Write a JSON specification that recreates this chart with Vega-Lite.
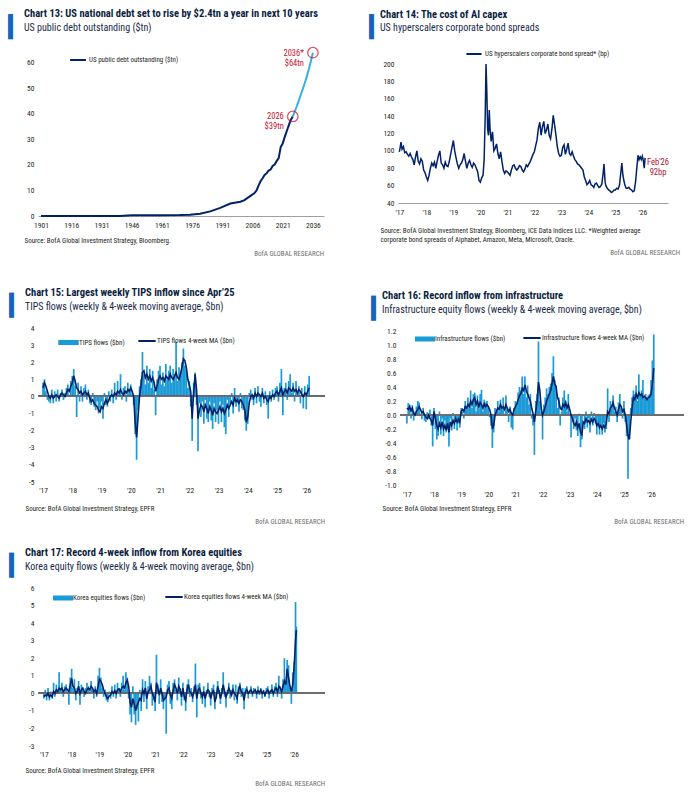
{
"$schema":"https://vega.github.io/schema/vega-lite/v6.json",
"padding":{"left":12,"top":9,"right":2,"bottom":0},
"config":{
 "view":{"stroke":null},
 "font":"Roboto Condensed, Noto Sans Condensed, Roboto, sans-serif",
 "axis":{"grid":false,"ticks":false,"domain":false,"labelOverlap":false,"labelFontSize":7.5,"labelColor":"#231f20","labelPadding":4,"titleFontWeight":"normal","titleFontSize":7,"titleColor":"#231f20","titleAnchor":"start","titleAlign":"left","titleBaseline":"top","titleLineHeight":9},
 "title":{"anchor":"start","fontSize":10.5,"fontWeight":"bold","color":"#0b1e3f","subtitleFontSize":10,"subtitleColor":"#1a2a4a","subtitlePadding":3,"offset":12},
 "legend":{"padding":0,"labelFontSize":7,"labelColor":"#231f20","title":null,"symbolStrokeWidth":2,"labelOffset":0}
},
"resolve":{"scale":{"fill":"independent","stroke":"independent"}},
"spacing":31,
"vconcat":[
{"spacing":49,"resolve":{"scale":{"fill":"independent","stroke":"independent"}},"hconcat":[
 {"title":{"text":"▔","font":"DejaVu Sans","orient":"left","anchor":"end","color":"#1565c0","fontSize":32,"fontWeight":"normal","offset":-21,"dx":-5},
  "resolve":{"scale":{"fill":"independent","stroke":"independent"}},
  "hconcat":[{"title":{"text":"Chart 13: US national debt set to rise by $2.4tn a year in next 10 years","subtitle":"US public debt outstanding ($tn)"},
   "resolve":{"scale":{"fill":"independent","stroke":"independent"}},
   "vconcat":[{"width":286,"height":171,
    "title":{"text":"BofA GLOBAL RESEARCH","orient":"bottom","anchor":"end","fontSize":7,"fontWeight":"normal","color":"#6d6e71","offset":7,"frame":"group"},
    "data":{"values":[{"yr":1901,"v":0.001,"s":"h"},{"yr":1910,"v":0.001,"s":"h"},{"yr":1916,"v":0.001,"s":"h"},{"yr":1917,"v":0.003,"s":"h"},{"yr":1919,"v":0.025,"s":"h"},{"yr":1930,"v":0.016,"s":"h"},{"yr":1940,"v":0.043,"s":"h"},{"yr":1946,"v":0.27,"s":"h"},{"yr":1950,"v":0.257,"s":"h"},{"yr":1960,"v":0.29,"s":"h"},{"yr":1970,"v":0.37,"s":"h"},{"yr":1975,"v":0.53,"s":"h"},{"yr":1980,"v":0.9,"s":"h"},{"yr":1985,"v":1.8,"s":"h"},{"yr":1990,"v":3.2,"s":"h"},{"yr":1995,"v":4.9,"s":"h"},{"yr":2000,"v":5.6,"s":"h"},{"yr":2002,"v":6.2,"s":"h"},{"yr":2005,"v":7.9,"s":"h"},{"yr":2007,"v":9.0,"s":"h"},{"yr":2008,"v":10.0,"s":"h"},{"yr":2009,"v":11.9,"s":"h"},{"yr":2010,"v":13.6,"s":"h"},{"yr":2011,"v":14.8,"s":"h"},{"yr":2012,"v":16.1,"s":"h"},{"yr":2013,"v":16.7,"s":"h"},{"yr":2014,"v":17.8,"s":"h"},{"yr":2015,"v":18.2,"s":"h"},{"yr":2016,"v":19.6,"s":"h"},{"yr":2017,"v":20.2,"s":"h"},{"yr":2018,"v":21.5,"s":"h"},{"yr":2019,"v":22.7,"s":"h"},{"yr":2020,"v":27.0,"s":"h"},{"yr":2021,"v":28.4,"s":"h"},{"yr":2022,"v":31.0,"s":"h"},{"yr":2023,"v":33.2,"s":"h"},{"yr":2024,"v":35.5,"s":"h"},{"yr":2025,"v":37.6,"s":"h"},{"yr":2026,"v":39.0,"s":"h"},
     {"yr":2026,"v":39.0,"s":"p"},{"yr":2027,"v":41.0,"s":"p"},{"yr":2028,"v":43.0,"s":"p"},{"yr":2029,"v":45.3,"s":"p"},{"yr":2030,"v":47.5,"s":"p"},{"yr":2031,"v":49.8,"s":"p"},{"yr":2032,"v":52.2,"s":"p"},{"yr":2033,"v":54.8,"s":"p"},{"yr":2034,"v":57.6,"s":"p"},{"yr":2035,"v":60.7,"s":"p"},{"yr":2036,"v":64.0,"s":"p"}]},
    "encoding":{
     "x":{"field":"yr","type":"quantitative","scale":{"domain":[1899.5,2041.5],"nice":false,"zero":false},"axis":{"values":[1901,1916,1931,1946,1961,1976,1991,2006,2021,2036],"format":"d","domain":true,"domainColor":"#a0a0a0","labelPadding":5,"title":"Source: BofA Global Investment Strategy, Bloomberg.","titleX":-14,"titleY":20}},
     "y":{"field":"v","type":"quantitative","scale":{"domain":[0,67],"nice":false},"axis":{"values":[0,10,20,30,40,50,60],"title":null}}
    },
    "layer":[
     {"transform":[{"filter":"datum.s=='h'"}],"mark":{"type":"line","strokeWidth":2},
      "encoding":{"stroke":{"datum":"US public debt outstanding ($tn)","scale":{"range":["#012169"]},"legend":{"orient":"none","legendX":31,"legendY":6,"symbolType":"stroke","symbolSize":250,"labelOffset":2}}}},
     {"transform":[{"filter":"datum.s=='p'"}],"mark":{"type":"line","strokeWidth":2,"color":"#34b0e6"}},
     {"data":{"values":[{"yr":2026,"v":39,"lab":"2026\n$39tn"},{"yr":2036,"v":64,"lab":"2036*\n$64tn"}]},
      "layer":[
       {"mark":{"type":"point","shape":"circle","filled":false,"size":110,"strokeWidth":1.3,"color":"#c8102e"}},
       {"mark":{"type":"text","align":"right","baseline":"middle","dx":-9,"fontSize":8.5,"color":"#c8102e","lineBreak":"\n","lineHeight":10},"encoding":{"text":{"field":"lab"}}}
      ]}
    ]
   }]
  }]
 },
 {"title":{"text":"▔","font":"DejaVu Sans","orient":"left","anchor":"end","color":"#1565c0","fontSize":32,"fontWeight":"normal","offset":-26,"dx":-5},
  "resolve":{"scale":{"fill":"independent","stroke":"independent"}},
  "hconcat":[{"title":{"text":"Chart 14: The cost of AI capex","subtitle":"US hyperscalers corporate bond spreads"},
   "resolve":{"scale":{"fill":"independent","stroke":"independent"}},
   "vconcat":[{"width":270,"height":158,
    "title":{"text":"BofA GLOBAL RESEARCH","orient":"bottom","anchor":"end","fontSize":7,"fontWeight":"normal","color":"#6d6e71","offset":7,"frame":"group","dx":12},
    "data":{"values":[{"t":2017.00,"v":99},{"t":2017.03,"v":104},{"t":2017.06,"v":110},{"t":2017.10,"v":102},{"t":2017.15,"v":105},{"t":2017.20,"v":98},{"t":2017.25,"v":99},{"t":2017.30,"v":96},{"t":2017.35,"v":94},{"t":2017.40,"v":97},{"t":2017.45,"v":93},{"t":2017.50,"v":90},{"t":2017.55,"v":84},{"t":2017.60,"v":93},{"t":2017.65,"v":100},{"t":2017.70,"v":88},{"t":2017.75,"v":85},{"t":2017.80,"v":91},{"t":2017.85,"v":88},{"t":2017.90,"v":78},{"t":2017.95,"v":75},{"t":2018.00,"v":70},{"t":2018.05,"v":66},{"t":2018.10,"v":72},{"t":2018.15,"v":80},{"t":2018.20,"v":86},{"t":2018.25,"v":83},{"t":2018.30,"v":87},{"t":2018.35,"v":80},{"t":2018.40,"v":88},{"t":2018.45,"v":95},{"t":2018.50,"v":100},{"t":2018.55,"v":86},{"t":2018.60,"v":84},{"t":2018.65,"v":80},{"t":2018.70,"v":87},{"t":2018.75,"v":83},{"t":2018.80,"v":82},{"t":2018.85,"v":88},{"t":2018.90,"v":96},{"t":2018.95,"v":104},{"t":2019.00,"v":112},{"t":2019.05,"v":100},{"t":2019.10,"v":92},{"t":2019.15,"v":85},{"t":2019.20,"v":80},{"t":2019.25,"v":84},{"t":2019.30,"v":86},{"t":2019.35,"v":90},{"t":2019.40,"v":97},{"t":2019.45,"v":88},{"t":2019.50,"v":80},{"t":2019.55,"v":86},{"t":2019.60,"v":89},{"t":2019.65,"v":84},{"t":2019.70,"v":81},{"t":2019.75,"v":86},{"t":2019.80,"v":84},{"t":2019.85,"v":80},{"t":2019.90,"v":76},{"t":2019.95,"v":66},{"t":2020.00,"v":64},{"t":2020.05,"v":69},{"t":2020.10,"v":72},{"t":2020.14,"v":90},{"t":2020.18,"v":140},{"t":2020.21,"v":200},{"t":2020.24,"v":168},{"t":2020.27,"v":125},{"t":2020.30,"v":118},{"t":2020.33,"v":147},{"t":2020.36,"v":125},{"t":2020.40,"v":111},{"t":2020.45,"v":122},{"t":2020.50,"v":100},{"t":2020.55,"v":103},{"t":2020.60,"v":108},{"t":2020.65,"v":97},{"t":2020.70,"v":91},{"t":2020.75,"v":99},{"t":2020.80,"v":88},{"t":2020.85,"v":78},{"t":2020.90,"v":74},{"t":2020.95,"v":77},{"t":2021.00,"v":76},{"t":2021.05,"v":74},{"t":2021.10,"v":72},{"t":2021.15,"v":78},{"t":2021.20,"v":83},{"t":2021.25,"v":84},{"t":2021.30,"v":80},{"t":2021.35,"v":78},{"t":2021.40,"v":80},{"t":2021.45,"v":83},{"t":2021.50,"v":82},{"t":2021.55,"v":78},{"t":2021.60,"v":76},{"t":2021.65,"v":79},{"t":2021.70,"v":84},{"t":2021.75,"v":82},{"t":2021.80,"v":85},{"t":2021.85,"v":88},{"t":2021.90,"v":92},{"t":2021.95,"v":96},{"t":2022.00,"v":99},{"t":2022.05,"v":106},{"t":2022.10,"v":113},{"t":2022.15,"v":126},{"t":2022.20,"v":133},{"t":2022.25,"v":118},{"t":2022.30,"v":128},{"t":2022.35,"v":134},{"t":2022.40,"v":120},{"t":2022.45,"v":124},{"t":2022.50,"v":131},{"t":2022.55,"v":118},{"t":2022.60,"v":114},{"t":2022.65,"v":125},{"t":2022.70,"v":141},{"t":2022.75,"v":130},{"t":2022.80,"v":118},{"t":2022.85,"v":105},{"t":2022.90,"v":97},{"t":2022.95,"v":94},{"t":2023.00,"v":95},{"t":2023.05,"v":104},{"t":2023.10,"v":107},{"t":2023.15,"v":96},{"t":2023.20,"v":102},{"t":2023.25,"v":109},{"t":2023.30,"v":97},{"t":2023.35,"v":95},{"t":2023.40,"v":99},{"t":2023.45,"v":94},{"t":2023.50,"v":90},{"t":2023.55,"v":88},{"t":2023.60,"v":85},{"t":2023.65,"v":84},{"t":2023.70,"v":82},{"t":2023.75,"v":80},{"t":2023.80,"v":78},{"t":2023.85,"v":70},{"t":2023.90,"v":66},{"t":2023.95,"v":61},{"t":2024.00,"v":63},{"t":2024.05,"v":66},{"t":2024.10,"v":61},{"t":2024.15,"v":60},{"t":2024.20,"v":58},{"t":2024.25,"v":62},{"t":2024.30,"v":63},{"t":2024.35,"v":60},{"t":2024.40,"v":58},{"t":2024.45,"v":59},{"t":2024.50,"v":62},{"t":2024.55,"v":75},{"t":2024.58,"v":85},{"t":2024.62,"v":64},{"t":2024.65,"v":60},{"t":2024.70,"v":57},{"t":2024.75,"v":55},{"t":2024.80,"v":54},{"t":2024.85,"v":52},{"t":2024.90,"v":53},{"t":2024.95,"v":55},{"t":2025.00,"v":55},{"t":2025.05,"v":57},{"t":2025.10,"v":56},{"t":2025.15,"v":60},{"t":2025.20,"v":74},{"t":2025.24,"v":86},{"t":2025.28,"v":72},{"t":2025.32,"v":65},{"t":2025.36,"v":60},{"t":2025.40,"v":57},{"t":2025.45,"v":57},{"t":2025.50,"v":58},{"t":2025.55,"v":56},{"t":2025.60,"v":55},{"t":2025.65,"v":53},{"t":2025.70,"v":54},{"t":2025.75,"v":65},{"t":2025.80,"v":82},{"t":2025.84,"v":95},{"t":2025.88,"v":90},{"t":2025.92,"v":93},{"t":2025.96,"v":90},{"t":2026.00,"v":94},{"t":2026.04,"v":88},{"t":2026.07,"v":80},{"t":2026.10,"v":92}]},
    "encoding":{
     "x":{"field":"t","type":"quantitative","scale":{"domain":[2016.95,2026.95],"nice":false,"zero":false},"axis":{"values":[2017,2018,2019,2020,2021,2022,2023,2024,2025,2026],"labelExpr":"\"'\" + substring(toString(datum.value), 2, 4)","domain":true,"domainColor":"#a0a0a0","labelPadding":5,"title":["Source: BofA Global Investment Strategy, Bloomberg, ICE Data Indices LLC. *Weighted average","corporate bond spreads of Alphabet, Amazon, Meta, Microsoft, Oracle."],"titleX":-18,"titleY":23}},
     "y":{"field":"v","type":"quantitative","scale":{"domain":[40,222],"nice":false,"zero":false},"axis":{"values":[40,60,80,100,120,140,160,180,200],"title":null}}
    },
    "layer":[
     {"mark":{"type":"line","strokeWidth":1.5},
      "encoding":{"stroke":{"datum":"US hyperscalers corporate bond spread* (bp)","scale":{"range":["#012169"]},"legend":{"orient":"none","legendX":67,"legendY":0,"symbolType":"stroke","symbolSize":230,"labelOffset":2}}}},
     {"data":{"values":[{"t":2026.10,"v":92,"lab":"Feb'26\n92bp"}]},
      "mark":{"type":"text","align":"center","baseline":"middle","dx":13,"dy":4,"fontSize":8.5,"color":"#b0102a","lineBreak":"\n","lineHeight":10},"encoding":{"text":{"field":"lab"}}}
    ]
   }]
  }]
 }
]},
{"spacing":23,"resolve":{"scale":{"fill":"independent","stroke":"independent"}},"vconcat":[
{"spacing":49,"resolve":{"scale":{"fill":"independent","stroke":"independent"}},"hconcat":[
 {"title":{"text":"▔","font":"DejaVu Sans","orient":"left","anchor":"end","color":"#1565c0","fontSize":32,"fontWeight":"normal","offset":-21,"dx":-5},
  "resolve":{"scale":{"fill":"independent","stroke":"independent"}},
  "hconcat":[{"title":{"text":"Chart 15: Largest weekly TIPS inflow since Apr’25","subtitle":"TIPS flows (weekly & 4-week moving average, $bn)","offset":12.5},
   "resolve":{"scale":{"fill":"independent","stroke":"independent"}},
   "vconcat":[{"width":287,"height":154,
    "title":{"text":"BofA GLOBAL RESEARCH","orient":"bottom","anchor":"end","fontSize":7,"fontWeight":"normal","color":"#6d6e71","offset":7,"frame":"group"},
    "data":{"values":[{"t":2017.00,"f":0.8,"m":0.5},{"t":2017.05,"f":1.0,"m":0.8},{"t":2017.10,"f":0.3,"m":0.6},{"t":2017.15,"f":-0.2,"m":0.3},{"t":2017.20,"f":-0.3,"m":0.0},{"t":2017.25,"f":-0.4,"m":-0.1},{"t":2017.30,"f":0.4,"m":0.1},{"t":2017.35,"f":-0.4,"m":-0.1},{"t":2017.40,"f":0.3,"m":0.0},{"t":2017.45,"f":-0.3,"m":0.1},{"t":2017.50,"f":0.4,"m":0.0},{"t":2017.55,"f":-0.3,"m":-0.1},{"t":2017.60,"f":0.2,"m":0.1},{"t":2017.65,"f":0.4,"m":0.2},{"t":2017.70,"f":-0.2,"m":0.1},{"t":2017.75,"f":0.2,"m":0.0},{"t":2017.80,"f":0.5,"m":0.2},{"t":2017.85,"f":0.7,"m":0.4},{"t":2017.90,"f":0.1,"m":0.3},{"t":2017.95,"f":0.9,"m":0.6},{"t":2018.00,"f":1.2,"m":0.8},{"t":2018.05,"f":1.6,"m":1.2},{"t":2018.10,"f":0.6,"m":0.9},{"t":2018.15,"f":-1.2,"m":0.5},{"t":2018.20,"f":0.8,"m":0.4},{"t":2018.25,"f":-0.3,"m":0.2},{"t":2018.30,"f":0.6,"m":0.3},{"t":2018.35,"f":-0.3,"m":0.1},{"t":2018.40,"f":0.5,"m":0.2},{"t":2018.45,"f":0.7,"m":0.3},{"t":2018.50,"f":-0.2,"m":0.1},{"t":2018.55,"f":0.4,"m":0.2},{"t":2018.60,"f":-0.4,"m":-0.1},{"t":2018.65,"f":-0.5,"m":-0.3},{"t":2018.70,"f":0.2,"m":-0.2},{"t":2018.75,"f":-0.6,"m":-0.4},{"t":2018.80,"f":-0.8,"m":-0.5},{"t":2018.85,"f":-0.3,"m":-0.6},{"t":2018.90,"f":-1.0,"m":-0.8},{"t":2018.95,"f":-0.7,"m":-0.9},{"t":2019.00,"f":-0.3,"m":-0.6},{"t":2019.05,"f":-1.3,"m":-0.7},{"t":2019.10,"f":0.2,"m":-0.4},{"t":2019.15,"f":-0.5,"m":-0.2},{"t":2019.20,"f":-0.6,"m":-0.4},{"t":2019.25,"f":0.3,"m":-0.2},{"t":2019.30,"f":-0.3,"m":0.0},{"t":2019.35,"f":0.4,"m":0.1},{"t":2019.40,"f":-0.4,"m":0.0},{"t":2019.45,"f":0.8,"m":0.2},{"t":2019.50,"f":-0.2,"m":0.1},{"t":2019.55,"f":0.9,"m":0.3},{"t":2019.60,"f":0.3,"m":0.2},{"t":2019.65,"f":1.3,"m":0.4},{"t":2019.70,"f":-0.2,"m":0.2},{"t":2019.75,"f":0.5,"m":0.1},{"t":2019.80,"f":0.6,"m":0.3},{"t":2019.85,"f":-0.3,"m":0.2},{"t":2019.90,"f":0.8,"m":0.4},{"t":2019.95,"f":0.4,"m":0.3},{"t":2020.00,"f":0.7,"m":0.5},{"t":2020.05,"f":0.1,"m":0.3},{"t":2020.10,"f":-0.5,"m":0.0},{"t":2020.15,"f":-2.2,"m":-1.5},{"t":2020.20,"f":-3.7,"m":-2.4},{"t":2020.25,"f":-0.8,"m":-1.2},{"t":2020.30,"f":0.6,"m":0.0},{"t":2020.35,"f":1.0,"m":0.6},{"t":2020.40,"f":2.6,"m":1.4},{"t":2020.45,"f":1.3,"m":1.5},{"t":2020.50,"f":0.7,"m":1.1},{"t":2020.55,"f":1.8,"m":1.3},{"t":2020.60,"f":0.8,"m":1.0},{"t":2020.65,"f":1.6,"m":1.2},{"t":2020.70,"f":0.5,"m":0.9},{"t":2020.75,"f":1.5,"m":1.1},{"t":2020.80,"f":0.4,"m":0.8},{"t":2020.85,"f":-1.1,"m":0.3},{"t":2020.90,"f":1.0,"m":0.6},{"t":2020.95,"f":1.5,"m":1.0},{"t":2021.00,"f":1.8,"m":1.2},{"t":2021.05,"f":0.7,"m":1.0},{"t":2021.10,"f":1.4,"m":1.1},{"t":2021.15,"f":0.6,"m":0.9},{"t":2021.20,"f":1.9,"m":1.2},{"t":2021.25,"f":1.0,"m":1.1},{"t":2021.30,"f":1.5,"m":1.0},{"t":2021.35,"f":1.8,"m":1.3},{"t":2021.40,"f":0.8,"m":1.1},{"t":2021.45,"f":1.6,"m":1.0},{"t":2021.50,"f":1.3,"m":1.2},{"t":2021.55,"f":3.2,"m":1.4},{"t":2021.60,"f":0.9,"m":1.1},{"t":2021.65,"f":1.7,"m":1.0},{"t":2021.70,"f":1.2,"m":1.3},{"t":2021.75,"f":2.0,"m":1.7},{"t":2021.80,"f":2.8,"m":2.2},{"t":2021.85,"f":1.8,"m":2.1},{"t":2021.90,"f":1.6,"m":1.7},{"t":2021.95,"f":0.5,"m":1.0},{"t":2022.00,"f":0.9,"m":0.7},{"t":2022.05,"f":-0.6,"m":0.3},{"t":2022.10,"f":-2.6,"m":-1.3},{"t":2022.15,"f":0.8,"m":0.2},{"t":2022.20,"f":1.4,"m":1.3},{"t":2022.25,"f":-0.5,"m":0.4},{"t":2022.30,"f":-3.2,"m":-1.3},{"t":2022.35,"f":-0.4,"m":-0.8},{"t":2022.40,"f":-1.2,"m":-0.5},{"t":2022.45,"f":-0.3,"m":-0.6},{"t":2022.50,"f":-1.6,"m":-0.9},{"t":2022.55,"f":-0.2,"m":-0.5},{"t":2022.60,"f":-1.3,"m":-0.7},{"t":2022.65,"f":-1.5,"m":-1.0},{"t":2022.70,"f":-0.3,"m":-0.6},{"t":2022.75,"f":-1.4,"m":-0.8},{"t":2022.80,"f":-1.9,"m":-1.1},{"t":2022.85,"f":-0.4,"m":-0.7},{"t":2022.90,"f":-1.5,"m":-0.9},{"t":2022.95,"f":-0.8,"m":-1.0},{"t":2023.00,"f":-1.6,"m":-0.8},{"t":2023.05,"f":-0.3,"m":-0.6},{"t":2023.10,"f":-1.5,"m":-0.9},{"t":2023.15,"f":-0.5,"m":-0.7},{"t":2023.20,"f":-1.8,"m":-1.0},{"t":2023.25,"f":-2.2,"m":-0.8},{"t":2023.30,"f":-0.2,"m":-0.5},{"t":2023.35,"f":-1.2,"m":-0.7},{"t":2023.40,"f":-0.4,"m":-0.5},{"t":2023.45,"f":0.2,"m":-0.3},{"t":2023.50,"f":-1.0,"m":-0.5},{"t":2023.55,"f":0.5,"m":-0.1},{"t":2023.60,"f":-0.6,"m":-0.3},{"t":2023.65,"f":-0.4,"m":-0.2},{"t":2023.70,"f":-0.9,"m":-0.4},{"t":2023.75,"f":0.2,"m":-0.2},{"t":2023.80,"f":-0.7,"m":-0.3},{"t":2023.85,"f":-0.8,"m":-0.5},{"t":2023.90,"f":-1.4,"m":-0.8},{"t":2023.95,"f":-2.0,"m":-1.5},{"t":2024.00,"f":-1.6,"m":-1.2},{"t":2024.05,"f":0.2,"m":-0.4},{"t":2024.10,"f":0.4,"m":0.0},{"t":2024.15,"f":-0.2,"m":0.1},{"t":2024.20,"f":-0.5,"m":-0.1},{"t":2024.25,"f":0.5,"m":0.2},{"t":2024.30,"f":-0.4,"m":0.0},{"t":2024.35,"f":0.6,"m":0.2},{"t":2024.40,"f":-0.3,"m":0.1},{"t":2024.45,"f":-0.6,"m":0.0},{"t":2024.50,"f":0.5,"m":0.2},{"t":2024.55,"f":-0.4,"m":-0.1},{"t":2024.60,"f":0.3,"m":0.0},{"t":2024.65,"f":-0.5,"m":-0.2},{"t":2024.70,"f":-1.3,"m":-0.3},{"t":2024.75,"f":0.3,"m":0.0},{"t":2024.80,"f":-0.3,"m":-0.1},{"t":2024.85,"f":0.4,"m":0.1},{"t":2024.90,"f":-0.2,"m":0.0},{"t":2024.95,"f":0.5,"m":0.2},{"t":2025.00,"f":0.6,"m":0.3},{"t":2025.05,"f":-0.3,"m":0.1},{"t":2025.10,"f":0.8,"m":0.3},{"t":2025.15,"f":1.6,"m":0.5},{"t":2025.20,"f":-1.1,"m":0.1},{"t":2025.25,"f":0.5,"m":0.3},{"t":2025.30,"f":0.8,"m":0.4},{"t":2025.35,"f":-0.2,"m":0.2},{"t":2025.40,"f":0.9,"m":0.5},{"t":2025.45,"f":1.3,"m":0.4},{"t":2025.50,"f":0.2,"m":0.3},{"t":2025.55,"f":0.8,"m":0.5},{"t":2025.60,"f":-0.3,"m":0.3},{"t":2025.65,"f":0.9,"m":0.4},{"t":2025.70,"f":0.3,"m":0.2},{"t":2025.75,"f":0.6,"m":0.4},{"t":2025.80,"f":-0.4,"m":0.3},{"t":2025.85,"f":0.5,"m":0.1},{"t":2025.90,"f":-0.7,"m":0.0},{"t":2025.95,"f":0.6,"m":0.2},{"t":2026.00,"f":-0.75,"m":0.1},{"t":2026.05,"f":0.7,"m":0.3},{"t":2026.10,"f":1.2,"m":0.5}]},
    "layer":[
     {"mark":{"type":"bar","orient":"vertical","width":1.7},
      "encoding":{
       "x":{"field":"t","type":"quantitative","scale":{"domain":[2017,2026.47],"nice":false,"zero":false},"axis":{"values":[2017,2018,2019,2020,2021,2022,2023,2024,2025,2026],"tickCount":40,"labelExpr":"\"'\" + substring(toString(datum.value), 2, 4)","labelPadding":4,"title":"Source: BofA Global Investment Strategy, EPFR","titleX":-13,"titleY":22}},
       "y":{"field":"f","type":"quantitative","stack":null,"scale":{"domain":[-5,4],"nice":false},"axis":{"values":[-5,-4,-3,-2,-1,0,1,2,3,4],"tickCount":40,"labelExpr":"datum.value < 0 ? '-' + (-datum.value) : '' + datum.value","title":null}},
       "fill":{"datum":"TIPS flows ($bn)","scale":{"range":["#1a9ad6"]},"legend":{"orient":"none","legendX":19,"legendY":3,"symbolType":"M-1,-0.25H1V0.25H-1Z","symbolSize":420,"labelOffset":-1}}}},
     {"mark":{"type":"rule","color":"#6d6e71","strokeWidth":1},"encoding":{"y":{"datum":0,"type":"quantitative"}}},
     {"mark":{"type":"line","strokeWidth":1.6},
      "encoding":{
       "x":{"field":"t","type":"quantitative","axis":{"tickCount":40}},
       "y":{"field":"m","type":"quantitative","axis":{"tickCount":40}},
       "stroke":{"datum":"TIPS flows 4-week MA ($bn)","scale":{"range":["#012169"]},"legend":{"orient":"none","legendX":99,"legendY":3,"symbolType":"stroke","symbolSize":300}}}}
    ]
   }]
  }]
 },
 {"title":{"text":"▔","font":"DejaVu Sans","orient":"left","anchor":"end","color":"#1565c0","fontSize":32,"fontWeight":"normal","offset":-26,"dx":-5},
  "resolve":{"scale":{"fill":"independent","stroke":"independent"}},
  "hconcat":[{"title":{"text":"Chart 16: Record inflow from infrastructure","subtitle":"Infrastructure equity flows (weekly & 4-week moving average, $bn)","offset":12.5},
   "resolve":{"scale":{"fill":"independent","stroke":"independent"}},
   "vconcat":[{"width":284,"height":157,
    "title":{"text":"BofA GLOBAL RESEARCH","orient":"bottom","anchor":"end","fontSize":7,"fontWeight":"normal","color":"#6d6e71","offset":7,"frame":"group"},
    "data":{"values":[{"t":2017.00,"f":-0.12,"m":0.1},{"t":2017.05,"f":0.17,"m":0.08},{"t":2017.10,"f":0.15,"m":0.12},{"t":2017.15,"f":-0.05,"m":0.06},{"t":2017.20,"f":0.14,"m":0.1},{"t":2017.25,"f":-0.08,"m":0.02},{"t":2017.30,"f":0.05,"m":0.0},{"t":2017.35,"f":0.12,"m":0.05},{"t":2017.40,"f":0.2,"m":0.08},{"t":2017.45,"f":0.18,"m":0.12},{"t":2017.50,"f":0.02,"m":0.08},{"t":2017.55,"f":-0.06,"m":0.03},{"t":2017.60,"f":0.1,"m":0.05},{"t":2017.65,"f":-0.08,"m":0.0},{"t":2017.70,"f":-0.1,"m":-0.03},{"t":2017.75,"f":0.04,"m":-0.05},{"t":2017.80,"f":-0.06,"m":0.0},{"t":2017.85,"f":0.08,"m":-0.05},{"t":2017.90,"f":-0.15,"m":-0.08},{"t":2017.95,"f":-0.45,"m":-0.15},{"t":2018.00,"f":0.1,"m":0.05},{"t":2018.05,"f":-0.2,"m":-0.05},{"t":2018.10,"f":-0.35,"m":-0.15},{"t":2018.15,"f":-0.3,"m":-0.2},{"t":2018.20,"f":0.05,"m":-0.12},{"t":2018.25,"f":-0.28,"m":-0.18},{"t":2018.30,"f":-0.05,"m":-0.1},{"t":2018.35,"f":-0.3,"m":-0.2},{"t":2018.40,"f":-0.08,"m":-0.15},{"t":2018.45,"f":-0.25,"m":-0.22},{"t":2018.50,"f":-0.15,"m":-0.12},{"t":2018.55,"f":-0.45,"m":-0.25},{"t":2018.60,"f":-0.05,"m":-0.1},{"t":2018.65,"f":-0.22,"m":-0.15},{"t":2018.70,"f":0.03,"m":-0.08},{"t":2018.75,"f":-0.2,"m":-0.12},{"t":2018.80,"f":-0.1,"m":-0.05},{"t":2018.85,"f":-0.22,"m":-0.1},{"t":2018.90,"f":-0.12,"m":-0.06},{"t":2018.95,"f":-0.18,"m":-0.1},{"t":2019.00,"f":0.1,"m":0.05},{"t":2019.05,"f":0.05,"m":0.08},{"t":2019.10,"f":-0.05,"m":0.05},{"t":2019.15,"f":0.2,"m":0.12},{"t":2019.20,"f":0.08,"m":0.1},{"t":2019.25,"f":0.25,"m":0.15},{"t":2019.30,"f":0.1,"m":0.12},{"t":2019.35,"f":0.35,"m":0.2},{"t":2019.40,"f":0.1,"m":0.15},{"t":2019.45,"f":0.3,"m":0.22},{"t":2019.50,"f":0.32,"m":0.25},{"t":2019.55,"f":0.05,"m":0.15},{"t":2019.60,"f":0.28,"m":0.2},{"t":2019.65,"f":0.08,"m":0.12},{"t":2019.70,"f":0.3,"m":0.18},{"t":2019.75,"f":0.36,"m":0.15},{"t":2019.80,"f":0.05,"m":0.1},{"t":2019.85,"f":0.22,"m":0.16},{"t":2019.90,"f":0.18,"m":0.12},{"t":2019.95,"f":0.2,"m":0.15},{"t":2020.00,"f":0.1,"m":0.12},{"t":2020.05,"f":-0.03,"m":0.08},{"t":2020.10,"f":-0.15,"m":0.0},{"t":2020.15,"f":-0.47,"m":-0.2},{"t":2020.20,"f":-0.25,"m":-0.15},{"t":2020.25,"f":0.1,"m":0.0},{"t":2020.30,"f":0.08,"m":0.05},{"t":2020.35,"f":0.2,"m":0.1},{"t":2020.40,"f":0.05,"m":0.08},{"t":2020.45,"f":0.22,"m":0.15},{"t":2020.50,"f":0.12,"m":0.1},{"t":2020.55,"f":0.25,"m":0.12},{"t":2020.60,"f":0.02,"m":0.08},{"t":2020.65,"f":0.28,"m":0.15},{"t":2020.70,"f":0.1,"m":0.1},{"t":2020.75,"f":-0.1,"m":0.05},{"t":2020.80,"f":0.12,"m":0.08},{"t":2020.85,"f":-0.18,"m":0.02},{"t":2020.90,"f":-0.21,"m":0.0},{"t":2020.95,"f":0.1,"m":0.08},{"t":2021.00,"f":0.2,"m":0.12},{"t":2021.05,"f":0.18,"m":0.15},{"t":2021.10,"f":0.32,"m":0.22},{"t":2021.15,"f":0.4,"m":0.28},{"t":2021.20,"f":0.35,"m":0.3},{"t":2021.25,"f":0.55,"m":0.38},{"t":2021.30,"f":0.3,"m":0.35},{"t":2021.35,"f":0.55,"m":0.43},{"t":2021.40,"f":0.25,"m":0.35},{"t":2021.45,"f":0.42,"m":0.3},{"t":2021.50,"f":0.15,"m":0.25},{"t":2021.55,"f":0.3,"m":0.2},{"t":2021.60,"f":-0.05,"m":0.1},{"t":2021.65,"f":-0.15,"m":0.02},{"t":2021.70,"f":-0.57,"m":-0.1},{"t":2021.75,"f":0.2,"m":0.05},{"t":2021.80,"f":0.3,"m":0.2},{"t":2021.85,"f":1.05,"m":0.47},{"t":2021.90,"f":0.2,"m":0.35},{"t":2021.95,"f":0.05,"m":0.1},{"t":2022.00,"f":-0.35,"m":0.0},{"t":2022.05,"f":0.15,"m":0.05},{"t":2022.10,"f":0.25,"m":0.12},{"t":2022.15,"f":0.38,"m":0.2},{"t":2022.20,"f":0.3,"m":0.25},{"t":2022.25,"f":0.4,"m":0.3},{"t":2022.30,"f":0.45,"m":0.35},{"t":2022.35,"f":0.6,"m":0.45},{"t":2022.40,"f":0.84,"m":0.55},{"t":2022.45,"f":0.5,"m":0.45},{"t":2022.50,"f":0.42,"m":0.4},{"t":2022.55,"f":0.1,"m":0.25},{"t":2022.60,"f":0.25,"m":0.2},{"t":2022.65,"f":-0.15,"m":0.1},{"t":2022.70,"f":0.05,"m":0.08},{"t":2022.75,"f":0.25,"m":0.15},{"t":2022.80,"f":0.35,"m":0.12},{"t":2022.85,"f":0.2,"m":0.18},{"t":2022.90,"f":0.05,"m":0.1},{"t":2022.95,"f":0.3,"m":0.15},{"t":2023.00,"f":0.02,"m":0.08},{"t":2023.05,"f":-0.32,"m":0.0},{"t":2023.10,"f":-0.1,"m":-0.05},{"t":2023.15,"f":-0.2,"m":-0.12},{"t":2023.20,"f":-0.05,"m":-0.15},{"t":2023.25,"f":-0.22,"m":-0.1},{"t":2023.30,"f":-0.3,"m":-0.18},{"t":2023.35,"f":0.02,"m":-0.12},{"t":2023.40,"f":-0.46,"m":-0.25},{"t":2023.45,"f":-0.35,"m":-0.28},{"t":2023.50,"f":0.0,"m":-0.1},{"t":2023.55,"f":-0.2,"m":-0.12},{"t":2023.60,"f":0.05,"m":-0.05},{"t":2023.65,"f":-0.18,"m":-0.1},{"t":2023.70,"f":-0.05,"m":-0.08},{"t":2023.75,"f":-0.25,"m":-0.12},{"t":2023.80,"f":0.05,"m":-0.06},{"t":2023.85,"f":-0.15,"m":-0.1},{"t":2023.90,"f":0.03,"m":-0.05},{"t":2023.95,"f":-0.12,"m":-0.08},{"t":2024.00,"f":-0.28,"m":-0.15},{"t":2024.05,"f":-0.1,"m":-0.12},{"t":2024.10,"f":-0.28,"m":-0.18},{"t":2024.15,"f":-0.15,"m":-0.15},{"t":2024.20,"f":-0.28,"m":-0.2},{"t":2024.25,"f":-0.12,"m":-0.15},{"t":2024.30,"f":-0.25,"m":-0.18},{"t":2024.35,"f":-0.2,"m":-0.12},{"t":2024.40,"f":0.38,"m":0.05},{"t":2024.45,"f":-0.1,"m":0.02},{"t":2024.50,"f":0.2,"m":0.1},{"t":2024.55,"f":0.15,"m":0.12},{"t":2024.60,"f":0.28,"m":0.18},{"t":2024.65,"f":0.05,"m":0.1},{"t":2024.70,"f":0.12,"m":0.05},{"t":2024.75,"f":-0.1,"m":0.0},{"t":2024.80,"f":0.18,"m":0.08},{"t":2024.85,"f":0.3,"m":0.15},{"t":2024.90,"f":0.1,"m":0.12},{"t":2024.95,"f":-0.05,"m":0.05},{"t":2025.00,"f":0.2,"m":0.08},{"t":2025.05,"f":-0.1,"m":0.0},{"t":2025.10,"f":-0.3,"m":-0.15},{"t":2025.15,"f":-0.91,"m":-0.3},{"t":2025.20,"f":-0.25,"m":-0.35},{"t":2025.25,"f":0.1,"m":-0.1},{"t":2025.30,"f":0.25,"m":0.1},{"t":2025.35,"f":0.35,"m":0.25},{"t":2025.40,"f":0.3,"m":0.22},{"t":2025.45,"f":0.42,"m":0.3},{"t":2025.50,"f":0.2,"m":0.25},{"t":2025.55,"f":0.58,"m":0.32},{"t":2025.60,"f":0.3,"m":0.28},{"t":2025.65,"f":0.35,"m":0.3},{"t":2025.70,"f":0.5,"m":0.25},{"t":2025.75,"f":0.25,"m":0.27},{"t":2025.80,"f":0.3,"m":0.25},{"t":2025.85,"f":0.25,"m":0.22},{"t":2025.90,"f":0.28,"m":0.25},{"t":2025.95,"f":0.3,"m":0.26},{"t":2026.00,"f":0.5,"m":0.3},{"t":2026.05,"f":0.78,"m":0.45},{"t":2026.10,"f":1.15,"m":0.67}]},
    "layer":[
     {"mark":{"type":"bar","orient":"vertical","width":1.7},
      "encoding":{
       "x":{"field":"t","type":"quantitative","scale":{"domain":[2016.93,2027.03],"nice":false,"zero":false},"axis":{"values":[2017,2018,2019,2020,2021,2022,2023,2024,2025,2026],"tickCount":40,"labelExpr":"\"'\" + substring(toString(datum.value), 2, 4)","labelPadding":5,"title":"Source: BofA Global Investment Strategy, EPFR","titleX":-18,"titleY":19}},
       "y":{"field":"f","type":"quantitative","stack":null,"scale":{"domain":[-1,1.243],"nice":false},"axis":{"values":[-1,-0.8,-0.6,-0.4,-0.2,0,0.2,0.4,0.6,0.8,1,1.2],"tickCount":40,"labelExpr":"datum.value < 0 ? '-' + format(-datum.value, '.1f') : format(datum.value, '.1f')","title":null}},
       "fill":{"datum":"Infrastructure flows ($bn)","scale":{"range":["#1a9ad6"]},"legend":{"orient":"none","legendX":14,"legendY":0,"symbolType":"M-1,-0.25H1V0.25H-1Z","symbolSize":400,"labelOffset":-1}}}},
     {"mark":{"type":"rule","color":"#6d6e71","strokeWidth":1},"encoding":{"y":{"datum":0,"type":"quantitative"}}},
     {"mark":{"type":"line","strokeWidth":1.6},
      "encoding":{
       "x":{"field":"t","type":"quantitative","axis":{"tickCount":40}},
       "y":{"field":"m","type":"quantitative","axis":{"tickCount":40}},
       "stroke":{"datum":"Infrastructure flows 4-week MA ($bn)","scale":{"range":["#012169"]},"legend":{"orient":"none","legendX":122,"legendY":0,"symbolType":"stroke","symbolSize":300}}}}
    ]
   }]
  }]
 }
]},
{"resolve":{"scale":{"fill":"independent","stroke":"independent"}},"hconcat":[
 {"title":{"text":"▔","font":"DejaVu Sans","orient":"left","anchor":"end","color":"#1565c0","fontSize":32,"fontWeight":"normal","offset":-21,"dx":-5},
  "resolve":{"scale":{"fill":"independent","stroke":"independent"}},
  "hconcat":[{"title":{"text":"Chart 17: Record 4-week inflow from Korea equities","subtitle":"Korea equity flows (weekly & 4-week moving average, $bn)","offset":12.5},
   "resolve":{"scale":{"fill":"independent","stroke":"independent"}},
   "vconcat":[{"width":287,"height":158,
    "title":{"text":"BofA GLOBAL RESEARCH","orient":"bottom","anchor":"end","fontSize":7,"fontWeight":"normal","color":"#6d6e71","offset":7,"frame":"group"},
    "data":{"values":[{"t":2017.00,"f":-0.3,"m":-0.2},{"t":2017.05,"f":0.2,"m":-0.1},{"t":2017.10,"f":-0.4,"m":-0.15},{"t":2017.15,"f":0.3,"m":0.0},{"t":2017.20,"f":-0.4,"m":-0.2},{"t":2017.25,"f":0.1,"m":-0.1},{"t":2017.30,"f":-0.3,"m":-0.2},{"t":2017.35,"f":0.6,"m":0.1},{"t":2017.40,"f":-0.2,"m":0.0},{"t":2017.45,"f":0.5,"m":0.2},{"t":2017.50,"f":0.2,"m":0.1},{"t":2017.55,"f":1.2,"m":0.3},{"t":2017.60,"f":0.3,"m":0.2},{"t":2017.65,"f":0.6,"m":0.3},{"t":2017.70,"f":-0.2,"m":0.1},{"t":2017.75,"f":0.4,"m":0.2},{"t":2017.80,"f":0.5,"m":0.3},{"t":2017.85,"f":0.1,"m":0.2},{"t":2017.90,"f":-0.65,"m":0.1},{"t":2017.95,"f":0.9,"m":0.5},{"t":2018.00,"f":1.4,"m":0.85},{"t":2018.05,"f":0.3,"m":0.4},{"t":2018.10,"f":0.8,"m":0.3},{"t":2018.15,"f":-0.4,"m":0.0},{"t":2018.20,"f":0.3,"m":0.1},{"t":2018.25,"f":0.7,"m":0.4},{"t":2018.30,"f":-0.65,"m":0.0},{"t":2018.35,"f":0.5,"m":0.2},{"t":2018.40,"f":0.2,"m":0.3},{"t":2018.45,"f":-0.2,"m":0.1},{"t":2018.50,"f":0.3,"m":0.0},{"t":2018.55,"f":0.6,"m":0.2},{"t":2018.60,"f":0.4,"m":0.3},{"t":2018.65,"f":0.1,"m":0.2},{"t":2018.70,"f":0.7,"m":0.4},{"t":2018.75,"f":0.2,"m":0.3},{"t":2018.80,"f":-0.3,"m":0.1},{"t":2018.85,"f":0.4,"m":0.2},{"t":2018.90,"f":-0.2,"m":0.0},{"t":2018.95,"f":1.0,"m":0.4},{"t":2019.00,"f":1.45,"m":0.8},{"t":2019.05,"f":0.9,"m":0.7},{"t":2019.10,"f":0.3,"m":0.5},{"t":2019.15,"f":-0.2,"m":0.2},{"t":2019.20,"f":0.2,"m":0.0},{"t":2019.25,"f":-0.4,"m":-0.2},{"t":2019.30,"f":-0.5,"m":-0.3},{"t":2019.35,"f":0.1,"m":-0.15},{"t":2019.40,"f":-0.3,"m":-0.1},{"t":2019.45,"f":0.4,"m":0.1},{"t":2019.50,"f":-0.2,"m":0.0},{"t":2019.55,"f":0.5,"m":0.15},{"t":2019.60,"f":-0.3,"m":0.0},{"t":2019.65,"f":0.6,"m":0.2},{"t":2019.70,"f":0.3,"m":0.25},{"t":2019.75,"f":-0.2,"m":0.1},{"t":2019.80,"f":0.6,"m":0.3},{"t":2019.85,"f":1.0,"m":0.4},{"t":2019.90,"f":0.2,"m":0.3},{"t":2019.95,"f":1.2,"m":0.6},{"t":2020.00,"f":0.9,"m":0.75},{"t":2020.05,"f":-0.3,"m":0.4},{"t":2020.10,"f":-1.2,"m":-0.5},{"t":2020.15,"f":-1.65,"m":-0.8},{"t":2020.20,"f":0.4,"m":-0.3},{"t":2020.25,"f":-1.2,"m":-0.6},{"t":2020.30,"f":-1.8,"m":-1.0},{"t":2020.35,"f":-0.9,"m":-0.7},{"t":2020.40,"f":-1.6,"m":-0.5},{"t":2020.45,"f":0.2,"m":-0.3},{"t":2020.50,"f":-1.0,"m":-0.4},{"t":2020.55,"f":0.8,"m":0.2},{"t":2020.60,"f":-0.5,"m":0.0},{"t":2020.65,"f":0.7,"m":0.3},{"t":2020.70,"f":-0.9,"m":-0.3},{"t":2020.75,"f":0.4,"m":0.1},{"t":2020.80,"f":1.0,"m":0.2},{"t":2020.85,"f":0.6,"m":0.4},{"t":2020.90,"f":-0.7,"m":0.0},{"t":2020.95,"f":-0.4,"m":-0.2},{"t":2021.00,"f":-1.0,"m":-0.5},{"t":2021.05,"f":2.2,"m":0.6},{"t":2021.10,"f":0.5,"m":0.3},{"t":2021.15,"f":-0.6,"m":-0.1},{"t":2021.20,"f":0.8,"m":0.3},{"t":2021.25,"f":-0.5,"m":0.0},{"t":2021.30,"f":-0.9,"m":-0.4},{"t":2021.35,"f":-0.4,"m":-0.3},{"t":2021.40,"f":-2.3,"m":-0.2},{"t":2021.45,"f":0.5,"m":0.2},{"t":2021.50,"f":0.7,"m":0.3},{"t":2021.55,"f":-0.6,"m":-0.1},{"t":2021.60,"f":-0.9,"m":-0.3},{"t":2021.65,"f":0.6,"m":0.2},{"t":2021.70,"f":0.8,"m":0.5},{"t":2021.75,"f":0.2,"m":0.3},{"t":2021.80,"f":-0.4,"m":0.0},{"t":2021.85,"f":0.9,"m":0.4},{"t":2021.90,"f":0.3,"m":0.2},{"t":2021.95,"f":-0.7,"m":-0.2},{"t":2022.00,"f":0.6,"m":0.3},{"t":2022.05,"f":-0.4,"m":-0.2},{"t":2022.10,"f":-1.0,"m":-0.4},{"t":2022.15,"f":0.5,"m":0.2},{"t":2022.20,"f":0.8,"m":0.5},{"t":2022.25,"f":-0.2,"m":0.1},{"t":2022.30,"f":0.3,"m":0.0},{"t":2022.35,"f":-0.5,"m":-0.2},{"t":2022.40,"f":0.4,"m":0.1},{"t":2022.45,"f":1.7,"m":0.5},{"t":2022.50,"f":-1.37,"m":-0.3},{"t":2022.55,"f":0.5,"m":0.2},{"t":2022.60,"f":0.6,"m":0.3},{"t":2022.65,"f":-0.3,"m":0.0},{"t":2022.70,"f":-0.6,"m":-0.2},{"t":2022.75,"f":0.4,"m":0.1},{"t":2022.80,"f":-0.8,"m":-0.3},{"t":2022.85,"f":0.2,"m":0.0},{"t":2022.90,"f":0.6,"m":0.2},{"t":2022.95,"f":-0.2,"m":0.1},{"t":2023.00,"f":-0.7,"m":-0.3},{"t":2023.05,"f":0.3,"m":0.0},{"t":2023.10,"f":0.5,"m":0.2},{"t":2023.15,"f":-0.9,"m":-0.5},{"t":2023.20,"f":-0.3,"m":-0.2},{"t":2023.25,"f":0.7,"m":0.4},{"t":2023.30,"f":0.2,"m":0.1},{"t":2023.35,"f":-0.6,"m":-0.3},{"t":2023.40,"f":0.3,"m":0.0},{"t":2023.45,"f":1.2,"m":0.5},{"t":2023.50,"f":-0.2,"m":0.1},{"t":2023.55,"f":-0.8,"m":-0.2},{"t":2023.60,"f":0.2,"m":0.0},{"t":2023.65,"f":0.6,"m":0.3},{"t":2023.70,"f":-0.3,"m":0.1},{"t":2023.75,"f":0.2,"m":-0.1},{"t":2023.80,"f":0.5,"m":0.2},{"t":2023.85,"f":-0.4,"m":0.0},{"t":2023.90,"f":0.5,"m":-0.1},{"t":2023.95,"f":-0.6,"m":-0.3},{"t":2024.00,"f":0.4,"m":0.2},{"t":2024.05,"f":0.6,"m":0.4},{"t":2024.10,"f":-0.2,"m":0.1},{"t":2024.15,"f":0.3,"m":0.0},{"t":2024.20,"f":-0.9,"m":-0.4},{"t":2024.25,"f":0.3,"m":0.1},{"t":2024.30,"f":0.4,"m":0.2},{"t":2024.35,"f":-0.3,"m":0.0},{"t":2024.40,"f":0.2,"m":0.1},{"t":2024.45,"f":0.4,"m":0.2},{"t":2024.50,"f":-0.2,"m":0.0},{"t":2024.55,"f":0.3,"m":0.1},{"t":2024.60,"f":0.2,"m":0.2},{"t":2024.65,"f":-0.3,"m":0.0},{"t":2024.70,"f":0.4,"m":0.15},{"t":2024.75,"f":-0.1,"m":0.05},{"t":2024.80,"f":0.3,"m":0.2},{"t":2024.85,"f":-0.3,"m":0.0},{"t":2024.90,"f":0.2,"m":0.1},{"t":2024.95,"f":-0.2,"m":-0.1},{"t":2025.00,"f":0.3,"m":0.1},{"t":2025.05,"f":0.4,"m":0.2},{"t":2025.10,"f":-0.3,"m":0.0},{"t":2025.15,"f":0.2,"m":0.1},{"t":2025.20,"f":0.5,"m":0.2},{"t":2025.25,"f":-0.2,"m":0.0},{"t":2025.30,"f":0.4,"m":0.2},{"t":2025.35,"f":0.6,"m":0.3},{"t":2025.40,"f":-0.2,"m":0.1},{"t":2025.45,"f":1.0,"m":0.4},{"t":2025.50,"f":0.4,"m":0.3},{"t":2025.55,"f":-0.3,"m":0.1},{"t":2025.60,"f":0.8,"m":0.4},{"t":2025.65,"f":2.0,"m":0.7},{"t":2025.70,"f":0.6,"m":0.5},{"t":2025.75,"f":1.9,"m":1.4},{"t":2025.80,"f":1.6,"m":0.9},{"t":2025.85,"f":0.3,"m":0.4},{"t":2025.90,"f":-0.6,"m":0.1},{"t":2025.95,"f":1.2,"m":0.5},{"t":2026.00,"f":1.8,"m":1.5},{"t":2026.05,"f":5.2,"m":3.0},{"t":2026.08,"f":3.8,"m":3.6}]},
    "layer":[
     {"mark":{"type":"bar","orient":"vertical","width":1.7},
      "encoding":{
       "x":{"field":"t","type":"quantitative","scale":{"domain":[2016.97,2026.93],"nice":false,"zero":false},"axis":{"values":[2017,2018,2019,2020,2021,2022,2023,2024,2025,2026],"tickCount":40,"labelExpr":"\"'\" + substring(toString(datum.value), 2, 4)","labelPadding":4,"title":"Source: BofA Global Investment Strategy, EPFR","titleX":-13,"titleY":20}},
       "y":{"field":"f","type":"quantitative","stack":null,"scale":{"domain":[-3,6],"nice":false},"axis":{"values":[-3,-2,-1,0,1,2,3,4,5,6],"tickCount":40,"labelExpr":"datum.value < 0 ? '-' + (-datum.value) : '' + datum.value","title":null}},
       "fill":{"datum":"Korea equities flows ($bn)","scale":{"range":["#1a9ad6"]},"legend":{"orient":"none","legendX":14,"legendY":-1,"symbolType":"M-1,-0.25H1V0.25H-1Z","symbolSize":400,"labelOffset":-1}}}},
     {"mark":{"type":"rule","color":"#6d6e71","strokeWidth":1},"encoding":{"y":{"datum":0,"type":"quantitative"}}},
     {"mark":{"type":"line","strokeWidth":1.6},
      "encoding":{
       "x":{"field":"t","type":"quantitative","axis":{"tickCount":40}},
       "y":{"field":"m","type":"quantitative","axis":{"tickCount":40}},
       "stroke":{"datum":"Korea equities flows 4-week MA ($bn)","scale":{"range":["#012169"]},"legend":{"orient":"none","legendX":126,"legendY":-1,"symbolType":"stroke","symbolSize":300}}}}
    ]
   }]
  }]
 }
]}
]}
]
}
